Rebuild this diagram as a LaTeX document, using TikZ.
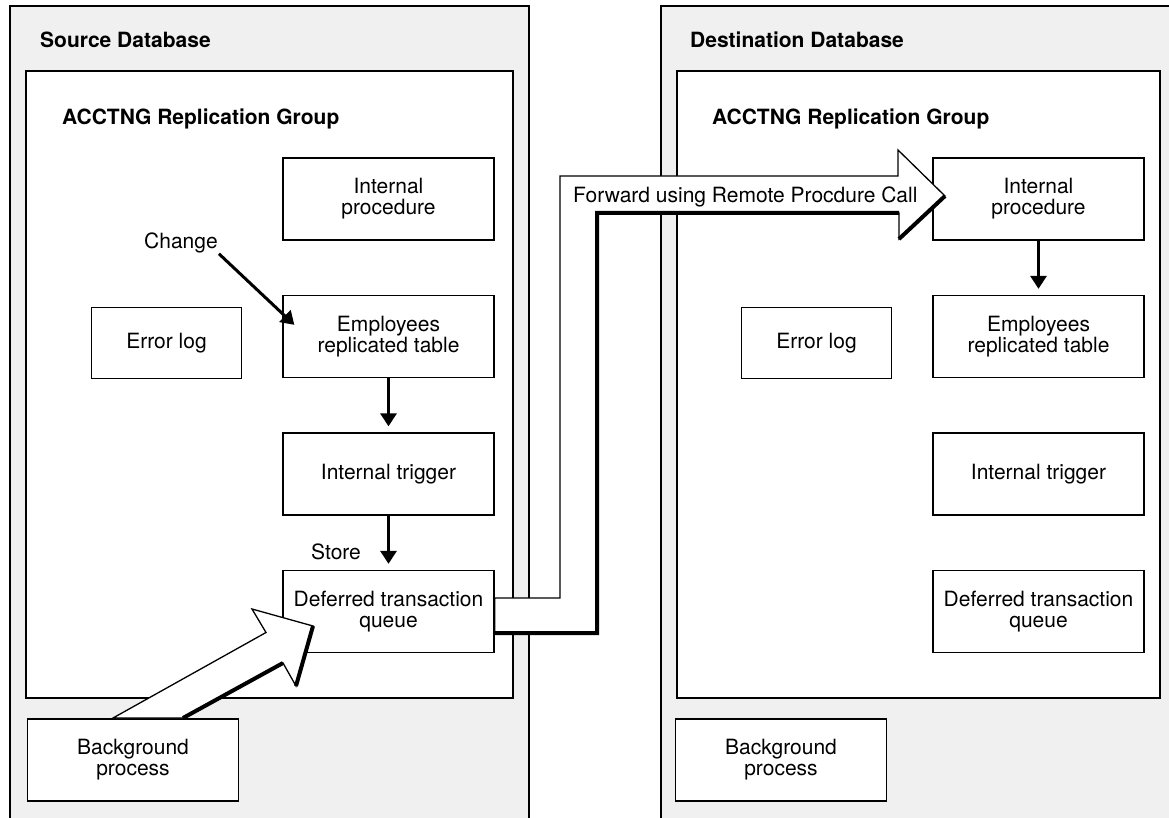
\documentclass[tikz,border=0pt]{standalone}
\usepackage{fontspec}
\setmainfont{TeX Gyre Heros}
\usetikzlibrary{arrows.meta}

\definecolor{dbgray}{HTML}{F0F0F0}

\tikzset{%
  every box/.style={
    rectangle,
    draw,
    fill=white,
    line width=1.3pt,
    align=center,
    minimum width=211pt,
    minimum height=82pt,
    inner sep=0pt,
    font=\fontsize{21}{21}\selectfont
  },
  box log/.style={
    minimum width=150pt,
    minimum height=71pt
  },
  group/.style={
    rectangle,
    draw,
    fill=white,
    line width=1.3pt,
    minimum height=627pt,
    inner sep=0pt
  },
  title/.style={
    inner sep=0pt,
    font=\fontsize{21}{21}\selectfont\bfseries
  },
  note/.style={
    inner sep=1pt,
    font=\fontsize{21}{21}\selectfont
  },
  flow/.style={
    ->,
    line width=3pt
  },
  fat arrow/.style={
    draw,
    fill=white,
    line width=1.3pt
  },
  fat shade/.style={
    line width=4pt
  },
}

\begin{document}
\begin{tikzpicture}[x=1pt, y=-1pt, >={Triangle[length=13pt,width=16pt]}]

\useasboundingbox (0,0) rectangle (1169,818);
\clip (0,0) rectangle (1169,818);

% the two databases
\fill [dbgray] (10,6) rectangle (529,830);
\draw [line width=1.5pt] (10,830) -- (10,6) -- (529,6) -- (529,830);
\fill [dbgray] (661,6) rectangle (1180,830);
\draw [line width=1.5pt] (661,830) -- (661,6) -- (1180,6);

\node [group, minimum width=487pt] (src-group) at (269.5,384.5) {};
\node [group, minimum width=483pt] (dst-group) at (918.5,384.5) {};

\foreach \s/\x/\l in {src/40/Source, dst/690/Destination}
  \node [title, anchor=base west] (\s-title) at (\x,48) {\l\ Database};

\foreach \s/\x in {src/62, dst/712}
  \node [title, anchor=base west] (\s-gtitle) at (\x,125) {ACCTNG Replication Group};

% boxes
\foreach \s/\x in {src/388.5, dst/1038.5}
  \foreach \m/\t [count=\i] in {proc/{Internal\\procedure}, emp/{Employees\\replicated table}, trig/{Internal trigger}, queue/{Deferred transaction\\queue}}
    \node [every box/.try] (\s-\m) at (\x,61.5+\i*137.5) {\t};

\foreach \s/\x in {src/166.5, dst/816.5}
  \node [every box/.try, box log/.try] (\s-log) at (\x,343) {Error log};

\foreach \s/\x in {src/133, dst/781}
  \node [every box/.try] (\s-bg) at (\x,760) {Background\\process};

% arrows
\node [note, anchor=base west] (change) at (143,248) {Change};
\node [note, anchor=base west] (store) at (310,559) {Store};

\draw [flow] (change.south east) -- ([xshift=12pt,yshift=-30pt]src-emp.north west);
\draw [flow, shorten >=6pt] (src-emp) -- (src-trig);
\draw [flow, shorten >=6pt] (src-trig) -- (src-queue);
\draw [flow, shorten >=6pt] (dst-proc) -- (dst-emp);

\draw [fat arrow] (113,718) -- (266,632.5) -- (252,609) -- (313,626)
  -- (296,686) -- (283,663) -- (183,718) -- cycle;
\draw [fat shade] (313,626) -- (296,686) (283,663) -- (183,718);

\draw [fat arrow] (src-queue.east |- 0,598) -- (560,598) -- (560,176)
  -- (898,176) -- (898,150) -- (945,196) -- (899,239) -- (899,213)
  -- (597,213) -- (597,633) -- (src-queue.east |- 0,633) -- cycle;
\draw [fat shade] (945,196) -- (899,239)
  (899,213) -- (597,213) -- (597,633) -- (src-queue.east |- 0,633);

\node [note, anchor=base west] (rpc) at (572,203) {Forward using Remote Procdure Call};

\end{tikzpicture}
\end{document}
